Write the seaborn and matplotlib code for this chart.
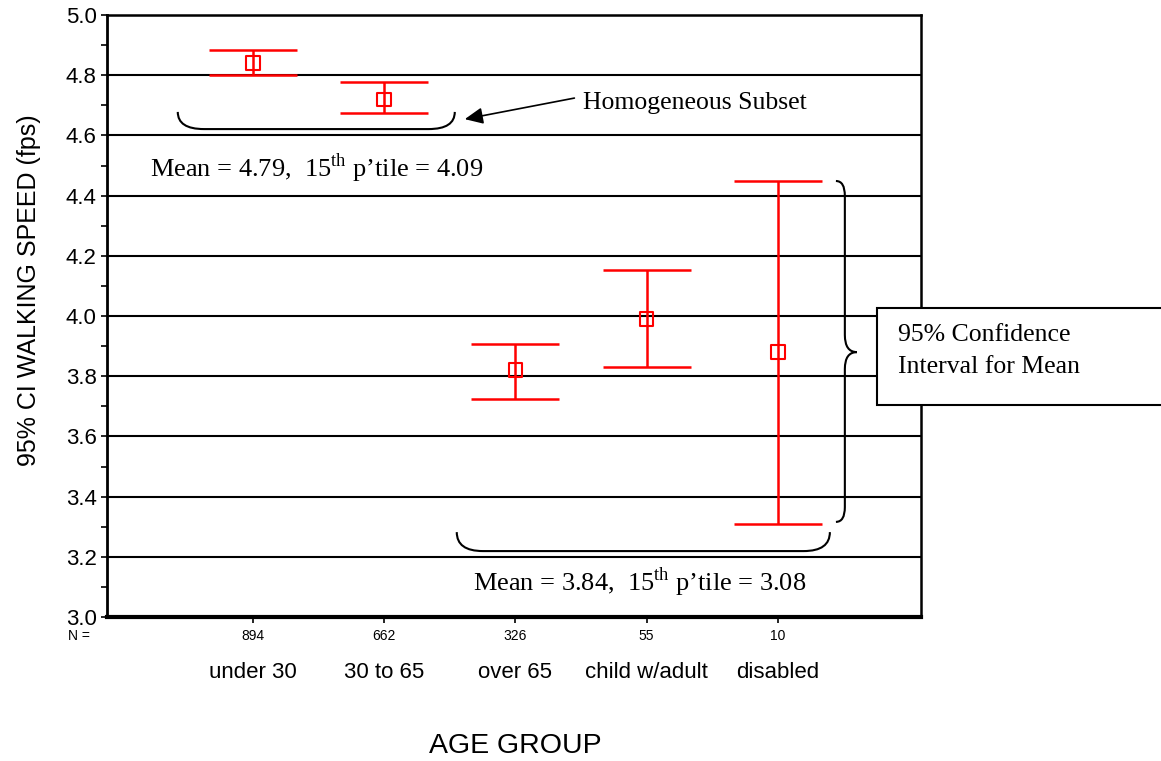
import numpy as np
import pandas as pd
import matplotlib
matplotlib.use("Agg")
import matplotlib.pyplot as plt
import seaborn as sns
from matplotlib.path import Path
from matplotlib.patches import PathPatch, Rectangle
from matplotlib.ticker import MultipleLocator, FormatStrFormatter

# data
groups = ["under 30", "30 to 65", "over 65", "child w/adult", "disabled"]
n_counts = [894, 662, 326, 55, 10]
means = [4.84, 4.72, 3.82, 3.99, 3.88]
ci_low = [4.80, 4.674, 3.724, 3.831, 3.309]
ci_high = [4.884, 4.777, 3.907, 4.153, 4.449]

df = pd.DataFrame({"group": groups, "pos": np.arange(len(groups)),
                   "mean": means, "low": ci_low, "high": ci_high})

sns.set_theme(style="white")
plt.rcParams["font.family"] = ["Liberation Sans", "DejaVu Sans"]
plt.rcParams["mathtext.fontset"] = "custom"
plt.rcParams["mathtext.rm"] = "Liberation Serif"
plt.rcParams["text.color"] = "black"
plt.rcParams["axes.labelcolor"] = "black"
plt.rcParams["xtick.color"] = "black"
plt.rcParams["ytick.color"] = "black"

fig = plt.figure(figsize=(11.61, 7.61), dpi=100)
ax = fig.add_axes([107 / 1161, 1 - 617 / 761, 814 / 1161, 602 / 761])

red = "#FF0000"
ax.errorbar(df["pos"], df["mean"],
            yerr=[df["mean"] - df["low"], df["high"] - df["mean"]],
            fmt="none", ecolor=red, elinewidth=1.8, capsize=31.5, capthick=1.8, zorder=3)
sns.scatterplot(data=df, x="pos", y="mean", marker="s", s=95, facecolor="none",
                edgecolor=red, linewidth=1.5, ax=ax, zorder=4)

ax.set_xlim(-1.11, 5.09)
ax.set_ylim(3.0, 5.0)
ax.yaxis.set_major_locator(MultipleLocator(0.2))
ax.yaxis.set_minor_locator(MultipleLocator(0.1))
ax.yaxis.set_major_formatter(FormatStrFormatter("%.1f"))
ax.yaxis.grid(True, which="major", color="black", lw=1.5, zorder=1)
ax.set_axisbelow(True)

ax.set_xticks(df["pos"])
ax.set_xticklabels([str(n) for n in n_counts], fontsize=10)
ax.tick_params(axis="x", direction="out", length=4.5, width=1.2, pad=4, bottom=True)
ax.tick_params(axis="y", which="both", direction="out", length=4.5, width=1.2, left=True,
               labelsize=16, pad=3)

for side, w in [("left", 2.0), ("bottom", 3.0), ("top", 1.8), ("right", 1.8)]:
    ax.spines[side].set_linewidth(w)
    ax.spines[side].set_color("black")

xt = ax.get_xaxis_transform()
ax.text(-1.32, -0.031, "N =", transform=xt, ha="center", va="center", fontsize=10, clip_on=False)
for p, g in zip(df["pos"], groups):
    ax.text(p, -0.0914, g, transform=xt, ha="center", va="center", fontsize=16, clip_on=False)

ax.set_xlabel("AGE GROUP", fontsize=20.5)
ax.xaxis.set_label_coords(0.502, -0.193)
ax.set_ylabel("95% CI WALKING SPEED (fps)", fontsize=18)
ax.yaxis.set_label_coords(-0.081, 0.543)

serif = "Liberation Serif"
ax.text(2.514, 4.708, "Homogeneous Subset", family=serif, fontsize=18.5, va="center")
ax.annotate("", xy=(1.615, 4.654), xytext=(2.45, 4.724),
            arrowprops=dict(arrowstyle="-|>,head_length=0.55,head_width=0.25",
                            mutation_scale=20, color="black", lw=1.2, shrinkA=0, shrinkB=0))
ax.text(-0.785, 4.492, "Mean = 4.79,  15$^{\\mathrm{th}}$ p\u2019tile = 4.09",
        family=serif, fontsize=19, va="center")
ax.text(1.676, 3.116, "Mean = 3.84,  15$^{\\mathrm{th}}$ p\u2019tile = 3.08",
        family=serif, fontsize=19, va="center")


def u_brace(x0, x1, ytop, ybot, rx):
    verts = [(x0, ytop), (x0, ybot), (x0 + rx, ybot),
             (x1 - rx, ybot), (x1, ybot), (x1, ytop)]
    codes = [Path.MOVETO, Path.CURVE3, Path.CURVE3,
             Path.LINETO, Path.CURVE3, Path.CURVE3]
    ax.add_patch(PathPatch(Path(verts, codes), fill=False, lw=1.5, color="black", zorder=5))


u_brace(-0.571, 1.539, 4.678, 4.621, 0.2)
u_brace(1.554, 4.396, 3.282, 3.219, 0.2)

# curly brace on the right
bx0, bx1, bx2 = 4.442, 4.510, 4.602
verts = [(bx0, 4.4485), (bx1, 4.4485), (bx1, 4.399),
         (bx1, 3.937), (bx1, 3.880), (bx2, 3.880),
         (bx1, 3.880), (bx1, 3.824),
         (bx1, 3.365), (bx1, 3.316), (bx0, 3.316)]
codes = [Path.MOVETO, Path.CURVE3, Path.CURVE3,
         Path.LINETO, Path.CURVE3, Path.CURVE3,
         Path.CURVE3, Path.CURVE3,
         Path.LINETO, Path.CURVE3, Path.CURVE3]
ax.add_patch(PathPatch(Path(verts, codes), fill=False, lw=1.5, color="black", zorder=5))

fig.add_artist(Rectangle((877 / 1161, 1 - 405 / 761), 1.0, 97 / 761,
                         transform=fig.transFigure, fill=True, facecolor="white",
                         edgecolor="black", lw=1.5))
fig.text(898 / 1161, 1 - 351 / 761, "95% Confidence\nInterval for Mean",
         family=serif, fontsize=18.5, va="center", ha="left", linespacing=1.6)

fig.savefig("out.png", dpi=100)
